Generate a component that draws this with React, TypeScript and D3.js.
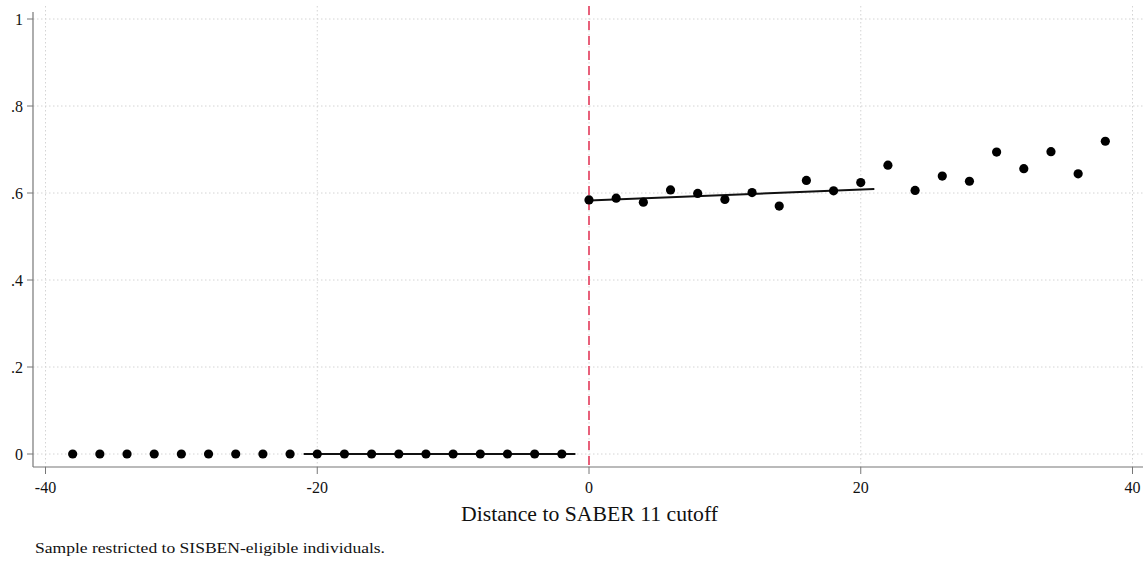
import React from "react";
import * as d3 from "d3";

const leftX = [-38, -36, -34, -32, -30, -28, -26, -24, -22, -20, -18, -16, -14, -12, -10, -8, -6, -4, -2];
const leftY = [0, 0, 0, 0, 0, 0, 0, 0, 0, 0, 0, 0, 0, 0, 0, 0, 0, 0, 0];
const rightX = [0, 2, 4, 6, 8, 10, 12, 14, 16, 18, 20, 22, 24, 26, 28, 30, 32, 34, 36, 38];
const rightY = [0.584, 0.588, 0.579, 0.607, 0.599, 0.585, 0.601, 0.570, 0.629, 0.605, 0.624, 0.664, 0.606, 0.639, 0.627, 0.694, 0.656, 0.695, 0.644, 0.719];
const leftFitX = [-21, -1];
const leftFitY = [0, 0];
const rightFitX = [0, 21];
const rightFitY = [0.583, 0.609];
const xTicks = [-40, -20, 0, 20, 40];
const yTicks = [0, 0.2, 0.4, 0.6, 0.8, 1];
const yTickLabels = ["0", ".2", ".4", ".6", ".8", "1"];

export default function App() {
  const W = 1148, H = 561;
  const x = d3.scaleLinear().domain([-40, 40]).range([45.5, 1132.5]);
  const y = d3.scaleLinear().domain([0, 1]).range([454, 19]);
  const axL = 33, axB = 467, top = 6, right = 1143;
  const line = d3.line<[number, number]>().x(d => x(d[0])).y(d => y(d[1]));
  const font = "'Liberation Serif', 'DejaVu Serif', serif";
  const pts = [
    ...leftX.map((v, i) => [v, leftY[i]] as [number, number]),
    ...rightX.map((v, i) => [v, rightY[i]] as [number, number]),
  ];
  return (
    <svg width={W} height={H} style={{ position: "absolute", left: 0, top: 0, background: "#fff" }} fontFamily={font}>
      {yTicks.map(t => (
        <line key={"gy" + t} x1={axL} x2={right} y1={y(t)} y2={y(t)} stroke="#d4d4d4" strokeWidth={1} strokeDasharray="1.5,2.5" />
      ))}
      {xTicks.map(t => (
        <line key={"gx" + t} x1={x(t)} x2={x(t)} y1={top} y2={axB} stroke="#d4d4d4" strokeWidth={1} strokeDasharray="1.5,2.5" />
      ))}
      <line x1={axL} x2={axL} y1={12} y2={axB} stroke="#777" strokeWidth={1.2} />
      <line x1={axL} x2={right} y1={axB} y2={axB} stroke="#777" strokeWidth={1.2} />
      {yTicks.map((t, i) => (
        <g key={"ty" + t}>
          <line x1={axL - 6} x2={axL} y1={y(t)} y2={y(t)} stroke="#777" strokeWidth={1} />
          <text x={axL - 10} y={y(t)} dy="0.35em" textAnchor="end" fontSize={16} fill="#111">{yTickLabels[i]}</text>
        </g>
      ))}
      {xTicks.map(t => (
        <g key={"tx" + t}>
          <line x1={x(t)} x2={x(t)} y1={axB} y2={axB + 7} stroke="#777" strokeWidth={1} />
          <text x={x(t)} y={axB + 26} textAnchor="middle" fontSize={16} fill="#111">{t}</text>
        </g>
      ))}
      <line x1={x(0)} x2={x(0)} y1={top} y2={axB} stroke="#e8607a" strokeWidth={2} strokeDasharray="9,6" />
      <path d={line(leftFitX.map((v, i) => [v, leftFitY[i]]))!} stroke="#111" strokeWidth={2} fill="none" />
      <path d={line(rightFitX.map((v, i) => [v, rightFitY[i]]))!} stroke="#111" strokeWidth={2} fill="none" />
      {pts.map((p, i) => (
        <circle key={i} cx={x(p[0])} cy={y(p[1])} r={4.6} fill="#000" />
      ))}
      <text x={461} y={521} fontSize={21} fill="#111" textLength={257} lengthAdjust="spacingAndGlyphs">Distance to SABER 11 cutoff</text>
      <text x={35} y={553} fontSize={14.5} fill="#111" textLength={350} lengthAdjust="spacingAndGlyphs">Sample restricted to SISBEN-eligible individuals.</text>
    </svg>
  );
}
